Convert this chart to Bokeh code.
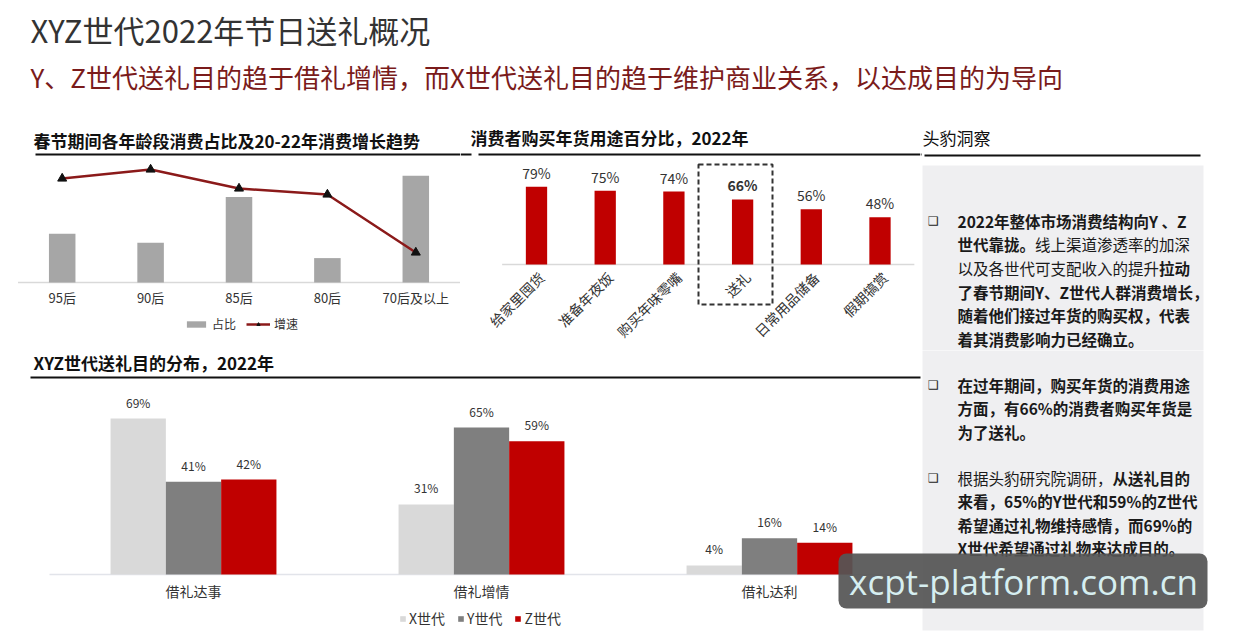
import math
from bokeh.plotting import figure
from bokeh.layouts import column, row
from bokeh.models import (ColumnDataSource, Range1d, Label, BoxAnnotation, Legend, LegendItem)
from bokeh.core.properties import value, field
from bokeh.transform import dodge
from bokeh.embed import file_html
from bokeh.resources import INLINE

CJK = "Noto Sans CJK SC"

# ---------------- data ----------------
main_title = "XYZ世代2022年节日送礼概况"
subtitle = "Y、Z世代送礼目的趋于借礼增情，而X世代送礼目的趋于维护商业关系，以达成目的为导向"

age_title = "春节期间各年龄段消费占比及20-22年消费增长趋势"
age_groups = ["95后", "90后", "85后", "80后", "70后及以上"]
age_share = [16, 13, 28, 8, 35]
age_growth = [52, 56.5, 47, 44, 15]
age_legend = ["占比", "增速"]

use_title = "消费者购买年货用途百分比，2022年"
use_items = ["给家里囤货", "准备年夜饭", "购买年味零嘴", "送礼", "日常用品储备", "假期犒赏"]
use_pct = [79, 75, 74, 66, 56, 48]
use_focus = "送礼"

gift_title = "XYZ世代送礼目的分布，2022年"
gift_purposes = ["借礼达事", "借礼增情", "借礼达利"]
generations = ["X世代", "Y世代", "Z世代"]
gen_x_pct = [69, 31, 4]
gen_y_pct = [41, 65, 16]
gen_z_pct = [42, 59, 14]

insight_title = "头豹洞察"
insight_1 = [
    [("2022年整体市场消费结构向Y 、Z", True)],
    [("世代靠拢。", True), ("线上渠道渗透率的加深", False)],
    [("以及各世代可支配收入的提升", False), ("拉动", True)],
    [("了春节期间Y、Z世代人群消费增长，", True)],
    [("随着他们接过年货的购买权，代表", True)],
    [("着其消费影响力已经确立。", True)],
]
insight_2 = [
    [("在过年期间，购买年货的消费用途", True)],
    [("方面，有66%的消费者购买年货是", True)],
    [("为了送礼。", True)],
]
insight_3 = [
    [("根据头豹研究院调研，", False), ("从送礼目的", True)],
    [("来看，65%的Y世代和59%的Z世代", True)],
    [("希望通过礼物维持感情，而69%的", True)],
    [("X世代希望通过礼物来达成目的。", True)],
]
watermark = "xcpt-platform.com.cn"


# ---------------- helpers ----------------
def span_range(first_center_px, step_px, width_px):
    """Numeric range so that index 0 sits at first_center_px and each index step is step_px."""
    return Range1d(-first_center_px / step_px, (width_px - first_center_px) / step_px)


def value_range(base_from_bottom_px, px_per_unit, height_px):
    return Range1d(-base_from_bottom_px / px_per_unit, (height_px - base_from_bottom_px) / px_per_unit)


def panel(w, h, gx, gy, x_range=None, y_range=None):
    p = figure(width=w, height=h,
               x_range=x_range if x_range is not None else Range1d(0, 1),
               y_range=y_range if y_range is not None else Range1d(0, 1),
               output_backend="svg", toolbar_location=None, title=None,
               x_axis_location=None, y_axis_location=None,
               min_border_left=0, min_border_right=0, min_border_top=0, min_border_bottom=0)
    p.grid.visible = False
    p.outline_line_color = None
    p.background_fill_color = "white"
    p.border_fill_color = "white"
    return p, (gx, gy + h)


def label(p, geo, X, Y, text, size, bold=False, color="#222222", align="left",
          baseline="middle", font=CJK, level="annotation"):
    fl, fb = geo
    p.add_layout(Label(x=X - fl, y=fb - Y, x_units="screen", y_units="screen", text=text,
                       text_font=font, text_font_size=size,
                       text_font_style="bold" if bold else "normal",
                       text_color=color, text_align=align, text_baseline=baseline,
                       level=level))


def box(p, geo, X0, X1, Y0, Y1, fill="#111111", line=None, dash="solid", lw=1,
        alpha=1.0, radius=0, level="annotation"):
    fl, fb = geo
    kw = dict(left=X0 - fl, right=X1 - fl, top=fb - Y0, bottom=fb - Y1,
              left_units="screen", right_units="screen", top_units="screen", bottom_units="screen",
              fill_color=fill, fill_alpha=alpha if fill is not None else 0,
              line_color=line, line_alpha=1.0, line_width=lw, line_dash=dash, level=level)
    if radius:
        kw["border_radius"] = radius
    p.add_layout(BoxAnnotation(**kw))


def rich_lines(p, geo, X, Y0, step, lines, size_px):
    for i, segs in enumerate(lines):
        x = X
        y = Y0 + i * step
        for text, bold in segs:
            label(p, geo, x, y, text, f"{size_px}px", bold=bold, color="#1a1a1a")
            x += len(text) * size_px
    label(p, geo, 933, Y0, "❑", "12px", font="DejaVu Sans", align="center", color="#222222")


def baseline(p, n, color="#d9d9d9"):
    p.segment(x0=[-0.5], x1=[n - 0.5], y0=[0], y1=[0], line_color=color, line_width=1.5)


def cat_labels(p, src, xcol, textcol, size, y_off, angle=0.0, x_off=0, align="center"):
    p.text(x=xcol, y=0, text=textcol, source=src, text_font=value(CJK), text_font_size=size,
           text_color="#333333", text_align=align, text_baseline="middle",
           angle=angle, x_offset=x_off, y_offset=y_off)


SPLIT = 350  # global y where the top row ends and the bottom figure starts

# ---------------- header ----------------
hdr, hg = panel(1233, 118, 0, 0)
label(hdr, hg, 30, 29, main_title, "31px", color="#333333")
label(hdr, hg, 30, 76, subtitle, "26px", color="#7a1b1b")

TOP_H = SPLIT - 118

# ---------------- top-left: age groups ----------------
tl, tlg = panel(460, TOP_H, 0, 118, x_range=span_range(61.7, 88.4, 460),
                y_range=value_range(SPLIT - 282, 3.05, TOP_H))
tl.extra_y_ranges = {"growth": value_range(SPLIT - 282, 2.0, TOP_H)}
asrc = ColumnDataSource(dict(idx=list(range(len(age_groups))), group=age_groups,
                             share=age_share, growth=age_growth))
baseline(tl, len(age_groups))
bars = tl.vbar(x="idx", top="share", width=0.3, source=asrc, fill_color="#a6a6a6", line_color=None)
ln = tl.line(x="idx", y="growth", source=asrc, y_range_name="growth",
             line_color="#8b1a1a", line_width=2.5)
mk = tl.scatter(x="idx", y="growth", source=asrc, y_range_name="growth", marker="triangle",
                size=9, fill_color="#111111", line_color="#111111")
cat_labels(tl, asrc, "idx", "group", "13px", 15)
leg1 = Legend(items=[LegendItem(label=age_legend[0], renderers=[bars]),
                     LegendItem(label=age_legend[1], renderers=[ln, mk])],
              location=(184, SPLIT - 332), orientation="horizontal", border_line_color=None,
              background_fill_alpha=0, padding=0, margin=0, spacing=10,
              glyph_width=24, glyph_height=8, label_standoff=4,
              label_text_font=CJK, label_text_font_size="12px", label_text_color="#333333")
tl.add_layout(leg1)
label(tl, tlg, 33, 140, age_title, "17px", bold=True, color="#111111")
box(tl, tlg, 35, 460, 153, 155)

# ---------------- top-middle: uses ----------------
tm, tmg = panel(460, TOP_H, 460, 118, x_range=span_range(76, 68.7, 460),
                y_range=value_range(SPLIT - 264, 0.985, TOP_H))
usrc = ColumnDataSource(dict(idx=list(range(len(use_items))), item=use_items, pct=use_pct,
                             lab=[f"{v}%" for v in use_pct],
                             style=["bold" if c == use_focus else "normal" for c in use_items]))
baseline(tm, len(use_items))
tm.vbar(x="idx", top="pct", width=0.31, source=usrc, fill_color="#c00000", line_color=None)
tm.text(x="idx", y="pct", text="lab", source=usrc, text_font=value(CJK), text_font_size="14px",
        text_font_style=field("style"), text_align="center", text_baseline="bottom",
        y_offset=-4, text_color="#333333")
cat_labels(tm, usrc, "idx", "item", "14px", 10, angle=math.pi / 4, x_off=5, align="right")
box(tm, tmg, 698, 772, 164, 304, fill=None, line="#333333", dash="5 3", lw=2)
label(tm, tmg, 470, 137, use_title, "17px", bold=True, color="#111111")
box(tm, tmg, 460, 471, 153, 155)
box(tm, tmg, 478, 920, 153, 155)

# ---------------- top-right: insights (part 1) ----------------
tr, trg = panel(313, TOP_H, 920, 118)
box(tr, trg, 922, 1203, 165, SPLIT + 3, fill="#efeff1", level="underlay")
label(tr, trg, 922, 137, insight_title, "17px", color="#111111")
box(tr, trg, 920, 921, 153, 155)
box(tr, trg, 924, 1200, 154, 156)
rich_lines(tr, trg, 957, 220, 23.7, insight_1, 15.5)

# ---------------- bottom: gift purposes + insights (part 2) ----------------
BOT_H = 635 - SPLIT
bt, btg = panel(1233, BOT_H, 0, SPLIT, x_range=span_range(193, 288, 1233),
                y_range=value_range(635 - 574, 2.26, BOT_H))
box(bt, btg, 922, 1203, SPLIT - 3, 630, fill="#efeff1", level="underlay")
gsrc = ColumnDataSource(dict(idx=list(range(len(gift_purposes))), purpose=gift_purposes,
                             x=gen_x_pct, y=gen_y_pct, z=gen_z_pct,
                             xl=[f"{v}%" for v in gen_x_pct],
                             yl=[f"{v}%" for v in gen_y_pct],
                             zl=[f"{v}%" for v in gen_z_pct]))
baseline(bt, len(gift_purposes), color="#e2e4ea")
gen_cols = [("x", "xl", "#d9d9d9", -0.192), ("y", "yl", "#7f7f7f", 0.0), ("z", "zl", "#c00000", 0.192)]
items = []
for name, (col, lcol, color, off) in zip(generations, gen_cols):
    r = bt.vbar(x=dodge("idx", off), top=col, width=0.192, source=gsrc,
                fill_color=color, line_color=None)
    bt.text(x=dodge("idx", off), y=col, text=lcol, source=gsrc,
            text_font=value(CJK), text_font_size="12px", text_align="center",
            text_baseline="bottom", y_offset=-8, text_color="#333333")
    items.append(LegendItem(label=name, renderers=[r]))
cat_labels(bt, gsrc, "idx", "purpose", "14px", 16)
leg3 = Legend(items=items, location=(399, 7), orientation="horizontal", border_line_color=None,
              background_fill_alpha=0, padding=0, margin=0, spacing=12,
              glyph_width=7, glyph_height=7, label_standoff=3,
              label_text_font=CJK, label_text_font_size="14px", label_text_color="#333333")
bt.add_layout(leg3)
label(bt, btg, 33, 362, gift_title, "17px", bold=True, color="#111111")
box(bt, btg, 30, 920, 376, 378)
rich_lines(bt, btg, 957, 384, 23.6, insight_2, 15.5)
rich_lines(bt, btg, 957, 477, 23.6, insight_3, 15.5)
box(bt, btg, 838, 1207, 553, 608, fill="#555555", alpha=0.93, radius=8, level="overlay")
label(bt, btg, 1023, 581, watermark, "35px", font="Open Sans", align="center",
      color="#d6eef0", level="overlay")

layout = column(hdr, row(tl, tm, tr), bt)
open("out.html", "w", encoding="utf-8").write(file_html(layout, INLINE, title="XYZ世代2022年节日送礼概况"))
